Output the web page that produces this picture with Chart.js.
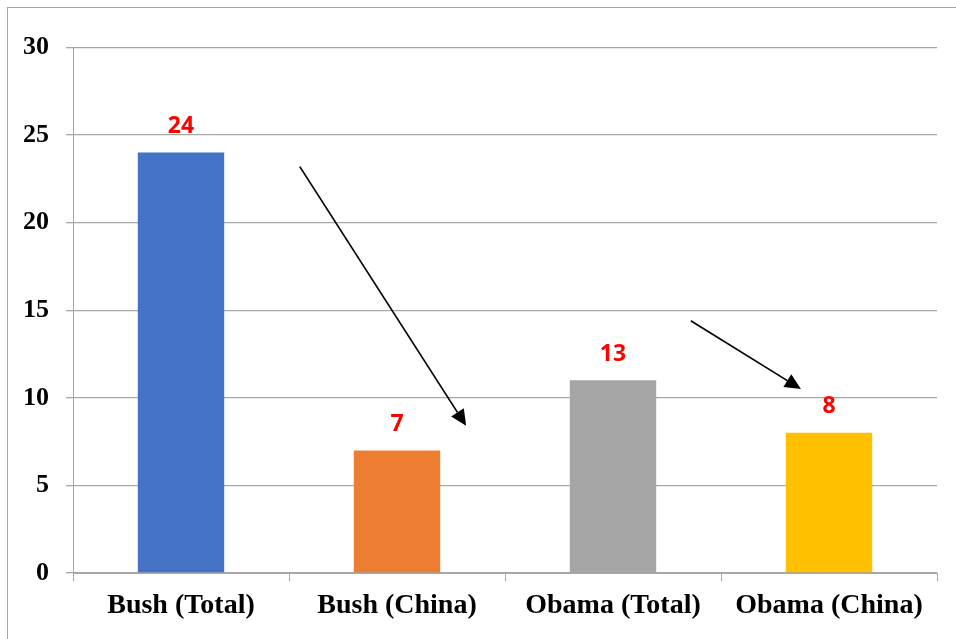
<!DOCTYPE html>
<html>
<head>
<meta charset="utf-8">
<script src="https://cdn.jsdelivr.net/npm/chart.js@4/dist/chart.umd.min.js"></script>
<style>
  html, body { margin: 0; padding: 0; background: #fff; }
  #wrap { width: 956px; height: 639px; position: relative; }
</style>
</head>
<body>
<div id="wrap"><canvas id="chart" width="956" height="639"></canvas></div>
<script>
const categories = ['Bush (Total)', 'Bush (China)', 'Obama (Total)', 'Obama (China)'];
const values = [24, 7, 11, 8];
const valueLabels = ['24', '7', '13', '8'];
const barColors = ['#4472C4', '#ED7D31', '#A5A5A5', '#FFC000'];

// arrows given in data units: [category index, value]
const arrowFrom = [[0.55, 23.2], [2.36, 14.4]];
const arrowTo = [[1.32, 8.4], [2.87, 10.5]];

const gridColor = '#a6a6a6';

// outer frame, value labels and arrows
const extras = {
    id: 'extras',
    beforeDraw(chart) {
        const ctx = chart.ctx;
        ctx.save();
        ctx.fillStyle = '#fff';
        ctx.fillRect(0, 0, chart.width, chart.height);
        ctx.strokeStyle = gridColor;
        ctx.lineWidth = 1;
        ctx.strokeRect(7.5, 7.5, chart.width + 10, chart.height + 10);
        ctx.restore();
    },
    afterDatasetsDraw(chart) {
        const ctx = chart.ctx;
        const meta = chart.getDatasetMeta(0);
        ctx.save();
        ctx.fillStyle = '#ff0000';
        ctx.font = 'bold 23px "Open Sans", "Liberation Sans", sans-serif';
        ctx.textAlign = 'center';
        ctx.textBaseline = 'middle';
        meta.data.forEach((bar, i) => {
            ctx.fillText(valueLabels[i], bar.x, bar.y - 26);
        });

        const xs = chart.scales.x, ys = chart.scales.y;
        ctx.strokeStyle = '#000';
        ctx.fillStyle = '#000';
        ctx.lineWidth = 1.7;
        arrowFrom.forEach((from, i) => {
            const x1 = xs.getPixelForValue(from[0]), y1 = ys.getPixelForValue(from[1]);
            const x2 = xs.getPixelForValue(arrowTo[i][0]), y2 = ys.getPixelForValue(arrowTo[i][1]);
            const ang = Math.atan2(y2 - y1, x2 - x1);
            const headLen = 16, headW = 7.5;
            const bx = x2 - headLen * Math.cos(ang), by = y2 - headLen * Math.sin(ang);
            ctx.beginPath();
            ctx.moveTo(x1, y1);
            ctx.lineTo(bx, by);
            ctx.stroke();
            ctx.beginPath();
            ctx.moveTo(x2, y2);
            ctx.lineTo(bx + headW * Math.sin(ang), by - headW * Math.cos(ang));
            ctx.lineTo(bx - headW * Math.sin(ang), by + headW * Math.cos(ang));
            ctx.closePath();
            ctx.fill();
        });
        ctx.restore();
    }
};

new Chart(document.getElementById('chart'), {
    type: 'bar',
    data: {
        labels: categories,
        datasets: [{
            data: values,
            backgroundColor: barColors,
            borderWidth: 0,
            categoryPercentage: 1,
            barPercentage: 0.4
        }]
    },
    options: {
        responsive: false,
        animation: false,
        layout: { padding: { top: 47.5, right: 19, left: 0, bottom: 0 } },
        plugins: {
            legend: { display: false },
            tooltip: { enabled: false }
        },
        scales: {
            x: {
                grid: {
                    offset: true,
                    drawOnChartArea: false,
                    drawTicks: true,
                    tickLength: 8,
                    color: gridColor
                },
                border: { display: true, color: gridColor },
                ticks: {
                    color: '#000',
                    padding: 8,
                    maxRotation: 0,
                    font: { family: '"Liberation Serif", "Times New Roman", serif', size: 28, weight: 'bold' }
                },
                afterFit(scale) { scale.height = 66; }
            },
            y: {
                min: 0,
                max: 30,
                ticks: {
                    stepSize: 5,
                    color: '#000',
                    padding: 17,
                    font: { family: '"Liberation Serif", "Times New Roman", serif', size: 26, weight: 'bold' }
                },
                grid: {
                    color: gridColor,
                    lineWidth: 1.3,
                    tickLength: 7
                },
                border: { display: true, color: gridColor },
                afterFit(scale) { scale.width = 73; }
            }
        }
    },
    plugins: [extras]
});
</script>
</body>
</html>
